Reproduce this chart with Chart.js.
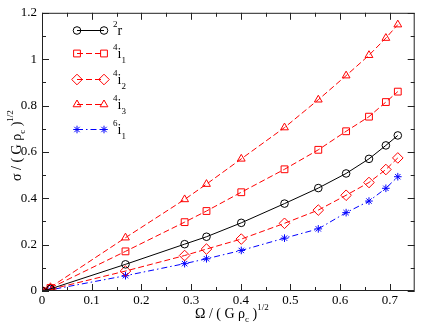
<!DOCTYPE html>
<html>
<head>
<meta charset="utf-8">
<script src="https://cdn.jsdelivr.net/npm/chart.js@4"></script>
<style>
  html, body { margin: 0; padding: 0; background: #fff; }
  #c { display: block; }
</style>
</head>
<body>
<canvas id="c" width="421" height="327"></canvas>
<script>
const omega = [0, 0.017, 0.168, 0.287, 0.331, 0.401, 0.488, 0.556, 0.612, 0.658, 0.692, 0.716];
const sig2r  = [0, 0.009, 0.115, 0.202, 0.234, 0.294, 0.377, 0.444, 0.507, 0.570, 0.628, 0.671];
const sig4i1 = [0, 0.013, 0.171, 0.297, 0.345, 0.426, 0.525, 0.609, 0.689, 0.752, 0.815, 0.860];
const sig4i2 = [0, 0.007, 0.086, 0.153, 0.181, 0.224, 0.292, 0.349, 0.413, 0.468, 0.524, 0.574];
const sig4i3 = [0, 0.016, 0.230, 0.395, 0.461, 0.570, 0.705, 0.825, 0.929, 1.017, 1.091, 1.149];
const sig6i1 = [0, 0.005, 0.066, 0.118, 0.139, 0.175, 0.228, 0.268, 0.338, 0.388, 0.443, 0.493];

const xTicks = [0, 0.1, 0.2, 0.3, 0.4, 0.5, 0.6, 0.7];
const yTicks = [0, 0.2, 0.4, 0.6, 0.8, 1, 1.2];
const xMinor = [0.05, 0.15, 0.25, 0.35, 0.45, 0.55, 0.65];
const yMinor = [0.1, 0.3, 0.5, 0.7, 0.9, 1.1];

// legend labels: [superscript, letter, subscript]
const legendText = [["2", "r", ""], ["4", "i", "1"], ["4", "i", "2"], ["4", "i", "3"], ["6", "i", "1"]];

const SERIF = "'Liberation Serif', 'DejaVu Serif', serif";

function pts(ys) {
  return omega.map((x, i) => ({ x, y: ys[i] }));
}

function ds(ys, color, style, dash, radius) {
  return {
    data: pts(ys),
    borderColor: color,
    backgroundColor: "rgba(0,0,0,0)",
    borderWidth: 1,
    borderDash: dash,
    pointStyle: style,
    pointRadius: radius,
    pointBorderColor: color,
    pointBorderWidth: 1,
    pointBackgroundColor: "rgba(0,0,0,0)",
    tension: 0
  };
}

const datasets = [
  ds(sig2r, "#000000", "circle", [], 3.8),
  ds(sig4i1, "#ff0000", "rect", [6, 3], 4.8),
  ds(sig4i2, "#ff0000", "rectRot", [6, 3], 5.3),
  ds(sig4i3, "#ff0000", "triangle", [6, 3], 4.5),
  ds(sig6i1, "#0000ff", "star", [6, 3, 1.5, 3], 3.8)
];

// draws pieces of text with super/subscript offsets, returns end x
function drawPieces(ctx, x, y, pieces) {
  for (const p of pieces) {
    ctx.font = p.size + "px " + SERIF;
    ctx.fillText(p.t, x, y + (p.dy || 0));
    x += ctx.measureText(p.t).width;
  }
  return x;
}

const titlePieces = (sym) => [
  { t: sym + " / ( G \u03c1", size: 14 },
  { t: "c", size: 9, dy: 4 },
  { t: " )", size: 14 },
  { t: "1/2", size: 9, dy: -8 }
];

const decor = {
  id: "decor",
  afterDraw(chart) {
    const ctx = chart.ctx;
    const a = chart.chartArea;
    const xs = chart.scales.x, ys = chart.scales.y;
    ctx.save();
    ctx.strokeStyle = "#222";
    ctx.lineWidth = 1;
    ctx.strokeRect(a.left + 0.5, a.top + 0.5, a.right - a.left - 1, a.bottom - a.top - 1);

    ctx.beginPath();
    const tick = (vals, len) => {
      for (const v of vals) {
        const px = Math.round(xs.getPixelForValue(v)) + 0.5;
        ctx.moveTo(px, a.bottom); ctx.lineTo(px, a.bottom - len);
        ctx.moveTo(px, a.top); ctx.lineTo(px, a.top + len);
      }
    };
    const ytick = (vals, len) => {
      for (const v of vals) {
        const py = Math.round(ys.getPixelForValue(v)) + 0.5;
        ctx.moveTo(a.left, py); ctx.lineTo(a.left + len, py);
        ctx.moveTo(a.right, py); ctx.lineTo(a.right - len, py);
      }
    };
    tick(xTicks, 7); tick(xMinor, 4);
    ytick(yTicks, 7); ytick(yMinor, 4);
    ctx.stroke();

    // legend
    const rows = [30, 53, 79, 104, 129];
    const x1 = 77, x2 = 104;
    chart.data.datasets.forEach((d, i) => {
      const y = rows[i] + 0.5;
      ctx.save();
      ctx.lineWidth = 1;
      ctx.strokeStyle = d.borderColor;
      ctx.setLineDash(d.borderDash);
      ctx.beginPath();
      ctx.moveTo(x1, y); ctx.lineTo(x2, y);
      ctx.stroke();
      ctx.setLineDash([]);
      const opts = { pointStyle: d.pointStyle, radius: d.pointRadius, borderWidth: 1, rotation: 0 };
      for (const px of [x1, x2]) {
        ctx.strokeStyle = d.borderColor;
        ctx.fillStyle = "rgba(0,0,0,0)";
        Chart.helpers.drawPoint(ctx, opts, px, y);
      }
      ctx.restore();
      const lt = legendText[i];
      ctx.fillStyle = "#000";
      ctx.textBaseline = "alphabetic";
      ctx.textAlign = "left";
      drawPieces(ctx, 113, rows[i] + 5, [
        { t: lt[0], size: 9, dy: -8 },
        { t: lt[1], size: 14 },
        { t: lt[2], size: 9, dy: 5 }
      ]);
    });

    // axis titles
    ctx.fillStyle = "#000";
    ctx.textAlign = "left";
    ctx.textBaseline = "alphabetic";
    drawPieces(ctx, 195, 318, titlePieces("\u03a9"));

    ctx.save();
    ctx.translate(21, 181);
    ctx.rotate(-Math.PI / 2);
    drawPieces(ctx, 0, 0, titlePieces("\u03c3"));
    ctx.restore();

    ctx.restore();
  }
};

new Chart(document.getElementById("c"), {
  type: "line",
  data: { datasets },
  options: {
    responsive: false,
    animation: false,
    devicePixelRatio: 1,
    layout: { padding: { top: 5, right: 1, left: 0, bottom: 0 } },
    plugins: { legend: { display: false }, tooltip: { enabled: false } },
    scales: {
      x: {
        type: "linear",
        min: 0,
        max: 0.75,
        grid: { display: false, drawTicks: false },
        border: { display: false },
        afterBuildTicks: (s) => { s.ticks = xTicks.map((v) => ({ value: v })); },
        afterFit: (s) => { s.height = 36; },
        ticks: {
          color: "#000",
          padding: 2,
          maxRotation: 0,
          font: { family: SERIF, size: 13 },
          callback: (v) => String(v)
        }
      },
      y: {
        type: "linear",
        min: 0,
        max: 1.2,
        grid: { display: false, drawTicks: false },
        border: { display: false },
        afterBuildTicks: (s) => { s.ticks = yTicks.map((v) => ({ value: v })); },
        afterFit: (s) => { s.width = 42; },
        ticks: {
          color: "#000",
          padding: 5,
          font: { family: SERIF, size: 13 },
          callback: (v) => String(v)
        }
      }
    }
  },
  plugins: [decor]
});
</script>
</body>
</html>
